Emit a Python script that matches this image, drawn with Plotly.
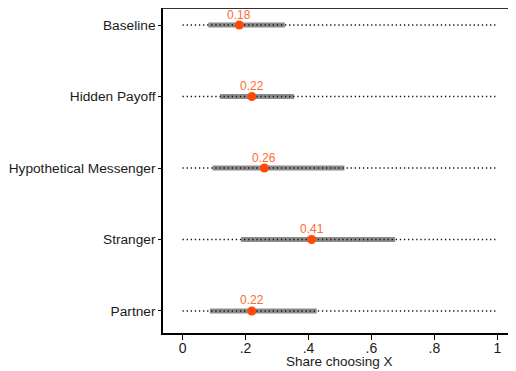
import plotly.graph_objects as go

categories = ["Baseline", "Hidden Payoff", "Hypothetical Messenger", "Stranger", "Partner"]
means = [0.18, 0.22, 0.26, 0.41, 0.22]
ci_low = [0.082, 0.119, 0.095, 0.186, 0.087]
ci_high = [0.325, 0.354, 0.514, 0.675, 0.426]
x_ticks = [0, 0.2, 0.4, 0.6, 0.8, 1]
x_tick_labels = ["0", ".2", ".4", ".6", ".8", "1"]
x_title = "Share choosing X"

n = len(categories)
ypos = [n - 1 - i for i in range(n)]

fig = go.Figure()
for i in range(n):
    y = ypos[i]
    # gray CI bar
    fig.add_trace(go.Scatter(x=[ci_low[i], ci_high[i]], y=[y, y], mode="lines",
                             line=dict(color="#8c8c8c", width=5), hoverinfo="skip", showlegend=False))
    # dotted reference line 0..1
    fig.add_trace(go.Scatter(x=[0, 1], y=[y, y], mode="lines",
                             line=dict(color="#111111", width=1.4, dash="1.3px,2.8px"),
                             hoverinfo="skip", showlegend=False))

fig.add_trace(go.Scatter(x=means, y=ypos, mode="markers", cliponaxis=False,
                         marker=dict(color="#ff4a05", size=9), showlegend=False))

annotations = [dict(text=f"{m:.2f}", x=m, y=y, xref="x", yref="y", showarrow=False,
                    xanchor="center", yanchor="middle", yshift=10.5,
                    font=dict(color="#ff6a2e", size=12))
               for m, y in zip(means, ypos)]
annotations.append(dict(text=x_title, xref="paper", yref="paper", x=0.5, y=-0.0862,
                        xanchor="center", yanchor="middle", showarrow=False,
                        font=dict(size=13.5)))

# page body has an 8px default margin, so the figure is sized to fit the 516x371 window
fig.update_layout(
    width=508, height=363,
    margin=dict(l=155, r=0, t=0, b=38),
    plot_bgcolor="white", paper_bgcolor="white",
    font=dict(family="Liberation Sans, Arial", size=13.7, color="#1a1a1a"),
    xaxis=dict(range=[-0.062, 1.059], tickvals=x_ticks, ticktext=x_tick_labels,
               showgrid=False, zeroline=False, showline=True, linecolor="black", linewidth=1.5,
               ticks="outside", ticklen=5, tickcolor="black", tickwidth=1, automargin=False,
               tickfont=dict(size=14), ticklabelstandoff=-4),
    yaxis=dict(range=[-0.308, 4.238], tickvals=ypos, ticktext=categories, automargin=False,
               showgrid=False, zeroline=False, showline=True, linecolor="black", linewidth=1.5,
               ticks="outside", ticklen=3, tickcolor="black", tickwidth=1),
    annotations=annotations,
    shapes=[dict(type="line", xref="paper", yref="paper", x0=0, x1=1, y0=1, y1=1,
                 line=dict(color="#333333", width=2))],
)

fig.write_html("out.html")
